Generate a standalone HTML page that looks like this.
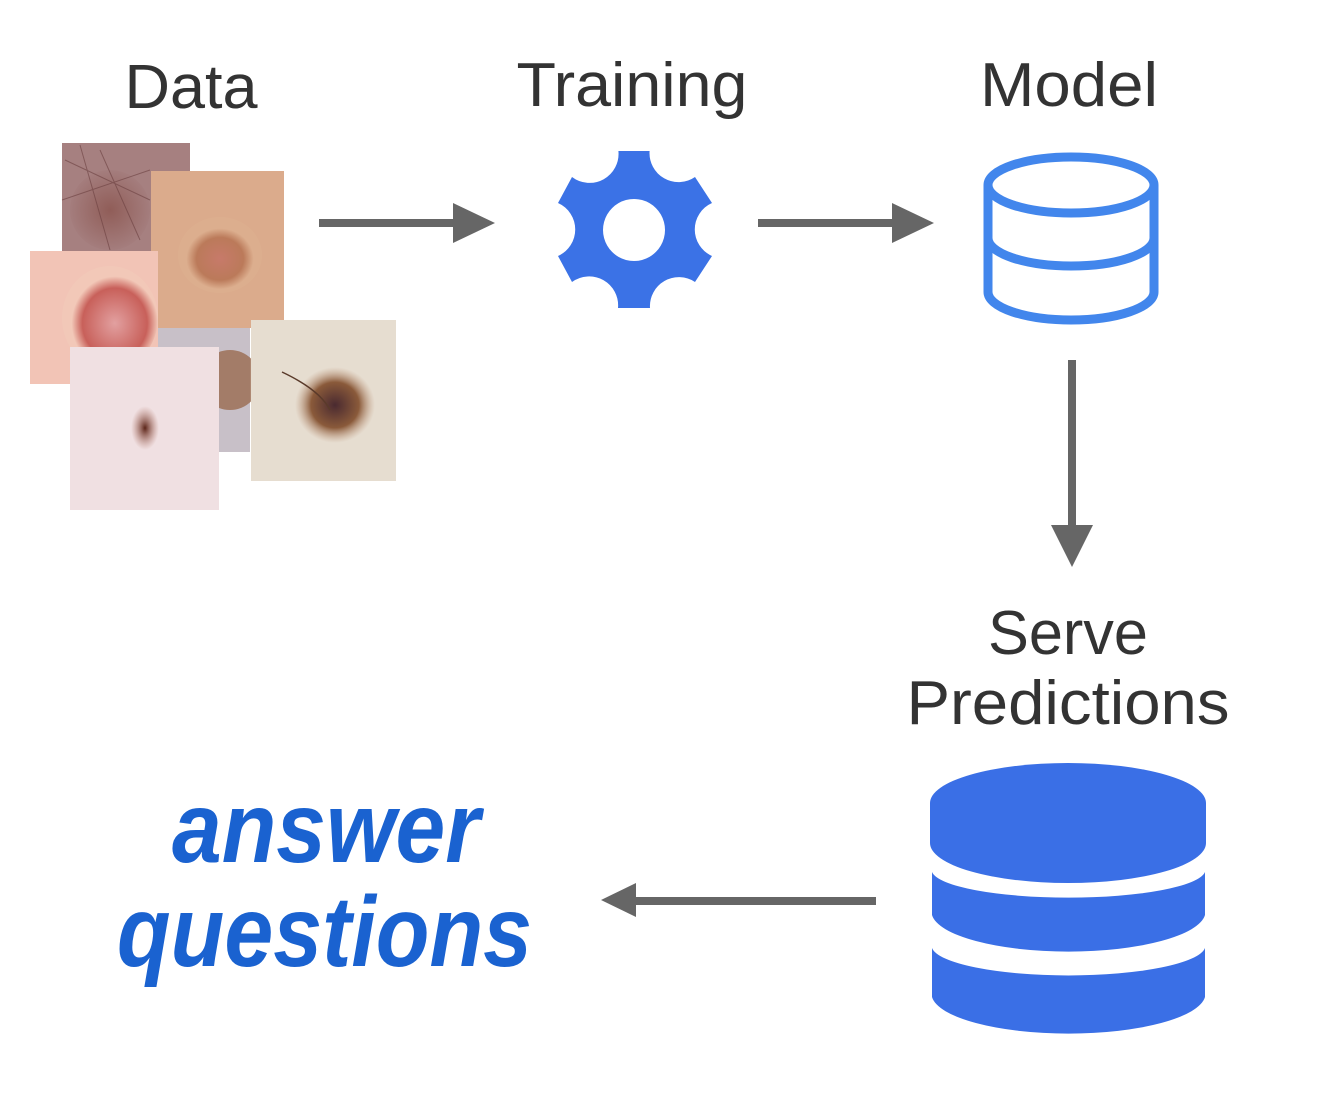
<!DOCTYPE html>
<html><head><meta charset="utf-8"><style>html,body{margin:0;padding:0;background:#fff}svg{display:block}</style></head>
<body>
<svg width="1323" height="1106" viewBox="0 0 1323 1106" xmlns="http://www.w3.org/2000/svg">
<defs>
<radialGradient id="g1" cx="0.5" cy="0.5" r="0.5"><stop offset="0" stop-color="#7a3a30"/><stop offset="1" stop-color="#a27a7a"/></radialGradient>
<radialGradient id="g2" cx="0.5" cy="0.55" r="0.4"><stop offset="0" stop-color="#c77a6a"/><stop offset="0.7" stop-color="#bb7a5a"/><stop offset="1" stop-color="#dcae8e"/></radialGradient>
<radialGradient id="g3" cx="0.55" cy="0.55" r="0.45"><stop offset="0" stop-color="#e2a0a0"/><stop offset="0.75" stop-color="#c8605a"/><stop offset="1" stop-color="#f2c8b8"/></radialGradient>
<radialGradient id="g5" cx="0.5" cy="0.5" r="0.5"><stop offset="0" stop-color="#5a2418"/><stop offset="1" stop-color="#b07060" stop-opacity="0"/></radialGradient>
<radialGradient id="g6" cx="0.5" cy="0.5" r="0.5"><stop offset="0" stop-color="#4a2a30"/><stop offset="0.6" stop-color="#8a5a3a"/><stop offset="1" stop-color="#c09a80" stop-opacity="0"/></radialGradient>
</defs>

<g font-family="Liberation Sans, sans-serif" fill="#333">
<text x="191" y="108" font-size="62" text-anchor="middle" textLength="133" lengthAdjust="spacingAndGlyphs">Data</text>
<text x="632" y="106" font-size="62" text-anchor="middle" textLength="231" lengthAdjust="spacingAndGlyphs">Training</text>
<text x="1069" y="106" font-size="62" text-anchor="middle" textLength="178" lengthAdjust="spacingAndGlyphs">Model</text>
<text x="1068" y="654" font-size="62" text-anchor="middle" textLength="160" lengthAdjust="spacingAndGlyphs">Serve</text>
<text x="1068" y="724" font-size="62" text-anchor="middle" textLength="323" lengthAdjust="spacingAndGlyphs">Predictions</text>
</g>
<g font-family="Liberation Sans, sans-serif" font-weight="bold" font-style="italic" fill="#1a62d0" font-size="100">
<text x="172" y="862" textLength="308" lengthAdjust="spacingAndGlyphs">answer</text>
<text x="117" y="966" textLength="415" lengthAdjust="spacingAndGlyphs">questions</text>
</g>

<!-- images -->
<rect x="62" y="143" width="128" height="108" fill="#a68080"/>
<circle cx="110" cy="210" r="40" fill="url(#g1)" opacity="0.5"/>
<g stroke="#6a4040" stroke-width="1" fill="none" opacity="0.6"><path d="M65 160 L150 200 M80 145 L110 250 M62 200 L150 170 M100 150 L140 240"/></g>
<rect x="158" y="328" width="92" height="124" fill="#c8c0c8"/>
<circle cx="230" cy="380" r="30" fill="#9a6a50" opacity="0.8"/>
<rect x="151" y="171" width="133" height="157" fill="#dbab8c"/>
<ellipse cx="220" cy="255" rx="42" ry="38" fill="url(#g2)"/>
<rect x="30" y="251" width="128" height="133" fill="#f2c4b6"/>
<ellipse cx="110" cy="318" rx="48" ry="52" fill="url(#g3)"/>
<rect x="70" y="347" width="149" height="163" fill="#f0e0e2"/>
<ellipse cx="145" cy="428" rx="14" ry="22" fill="url(#g5)"/>
<rect x="251" y="320" width="145" height="161" fill="#e6ddd0"/>
<ellipse cx="335" cy="405" rx="40" ry="38" fill="url(#g6)"/>
<path d="M282 372 Q320 390 330 410" stroke="#5a3a2a" stroke-width="1.5" fill="none"/>

<!-- arrows -->
<g fill="#666" stroke="none">
<rect x="319" y="219" width="140" height="8"/>
<polygon points="453,203 495,223 453,243"/>
<rect x="758" y="219" width="140" height="8"/>
<polygon points="892,203 934,223 892,243"/>
<rect x="1068" y="360" width="8" height="170"/>
<polygon points="1051,525 1093,525 1072,567"/>
<rect x="630" y="897" width="246" height="8"/>
<polygon points="636,883 636,917 601,900"/>
</g>

<!-- gear -->
<path fill="#3b72e6" fill-rule="evenodd" d="M618.4,151 L649.6,151 A29,29 0 0 0 695,177 L712,203 A29,29 0 0 0 712,256 L695,282 A29,29 0 0 0 650,308 L618,308 A29,29 0 0 0 572,282 L558,256 A29,29 0 0 0 558,203 L572,177 A29,29 0 0 0 618.4,151 Z M634,199 A31,31 0 1 0 634.01,199 Z"/>

<!-- model cylinder outline -->
<g fill="none" stroke="#4286ec" stroke-width="9">
<ellipse cx="1071" cy="185" rx="83" ry="28"/>
<path d="M988 185 L988 292 A83 28 0 0 0 1154 292 L1154 185"/>
<path d="M988 238 A83 28 0 0 0 1154 238"/>
</g>

<!-- serve cylinder -->
<g fill="#3a6fe6">
<path d="M930,803 A138,40 0 0 1 1206,803 L1206,843 A138,40 0 0 1 930,843 Z"/>
<path d="M932,872 A137,28 0 0 0 1205,872 L1205,915 A137,40 0 0 1 932,915 Z"/>
<path d="M932,948 A137,30 0 0 0 1205,948 L1205,997 A137,40 0 0 1 932,997 Z"/>
</g>
</svg>
</body></html>
